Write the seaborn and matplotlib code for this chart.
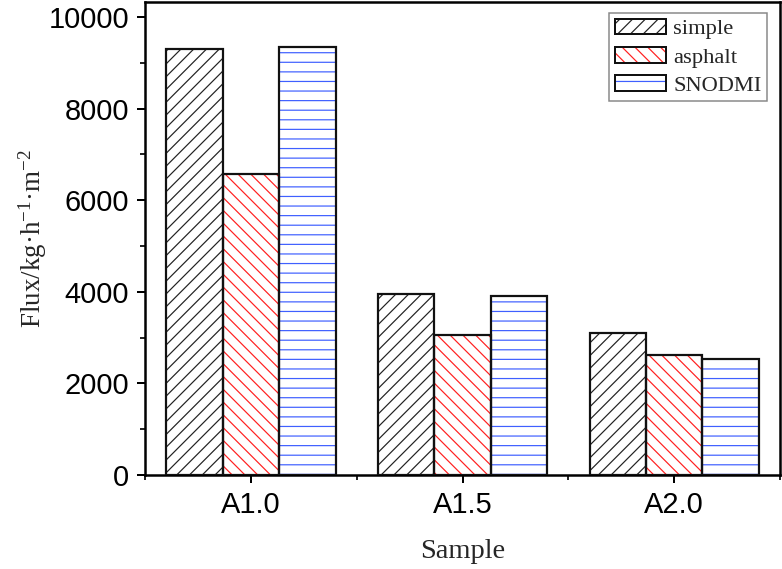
import matplotlib
matplotlib.use('Agg')
import matplotlib.pyplot as plt
import seaborn as sns
import pandas as pd
from matplotlib.patches import Patch, Rectangle
from matplotlib.legend_handler import HandlerTuple
from matplotlib.ticker import MultipleLocator, FixedLocator
from matplotlib.colors import to_hex

# ---- data ----
samples = ['A1.0', 'A1.5', 'A2.0']
series = ['simple', 'asphalt', 'SNODMI']
simple = [9300, 3950, 3105]
asphalt = [6570, 3055, 2620]
snodmi = [9350, 3915, 2525]

DPI = 230


def pt(px):
    return px * 72.0 / DPI


hatch_colors = {'simple': '#222222', 'asphalt': '#ff2020', 'SNODMI': '#3f5fff'}
hatches = {'simple': '//////', 'asphalt': '\\' * 6, 'SNODMI': '----'}

sns.set_theme(style='ticks')
plt.rcParams['font.family'] = ['Liberation Sans', 'DejaVu Sans']
plt.rcParams['hatch.linewidth'] = pt(1.2)
plt.rcParams['mathtext.fontset'] = 'custom'
plt.rcParams['mathtext.rm'] = 'Liberation Serif'
plt.rcParams['mathtext.it'] = 'Liberation Serif:italic'
plt.rcParams['axes.linewidth'] = pt(2.5)

df = pd.DataFrame({
    'Sample': samples * 3,
    'Series': [s for s in series for _ in samples],
    'Flux': simple + asphalt + snodmi,
})

fig = plt.figure(figsize=(782 / DPI, 569 / DPI), dpi=DPI)
ax = fig.add_axes([145 / 782, 1 - 475 / 569, 635 / 782, 473 / 569])

sns.barplot(data=df, x='Sample', y='Flux', hue='Series', order=samples,
            hue_order=series, width=0.8, ax=ax, legend=False, errorbar=None,
            saturation=1, palette=hatch_colors)

color_to_series = {to_hex(c): s for s, c in hatch_colors.items()}
bars = list(ax.patches)
for p in bars:
    s = color_to_series.get(to_hex(p.get_facecolor()))
    if s is None:
        continue
    p.set_facecolor('white')
    p.set_edgecolor(hatch_colors[s])
    p.set_hatch(hatches[s])
    p.set_linewidth(0)
    ax.add_patch(Rectangle((p.get_x(), p.get_y()), p.get_width(), p.get_height(),
                           fill=False, edgecolor='#111111', linewidth=pt(2.2), zorder=3))

ax.set_xlim(-0.5, 2.5)
ax.set_ylim(0, 10330)
ax.yaxis.set_major_locator(MultipleLocator(2000))
ax.yaxis.set_minor_locator(MultipleLocator(1000))
ax.xaxis.set_minor_locator(FixedLocator([-0.5, 0.5, 1.5, 2.5]))
ax.tick_params(axis='both', which='major', direction='out', length=pt(8), width=pt(2),
               labelsize=pt(29), pad=pt(8), colors='black')
ax.tick_params(axis='both', which='minor', direction='out', length=pt(5), width=pt(2))
ax.tick_params(top=False, right=False, which='both')
for sp in ax.spines.values():
    sp.set_color('black')

ax.set_xlabel('Sample', family='Liberation Serif', fontsize=pt(28.5), labelpad=pt(20))
ax.set_ylabel('Flux/kg·h$^{-1}$·m$^{-2}$', family='Liberation Serif', fontsize=pt(27))
ax.yaxis.set_label_coords((49 - 145) / 635, 0.5)

handles = [(Patch(facecolor='white', edgecolor=hatch_colors[s], hatch=hatches[s], linewidth=0),
            Patch(facecolor='none', edgecolor='#111111', linewidth=pt(2)))
           for s in series]
leg = ax.legend(handles, series, handler_map={tuple: HandlerTuple(ndivide=1, pad=0)},
                loc='upper right', bbox_to_anchor=((767 - 145) / 635, (475 - 13) / 473),
                borderaxespad=0, prop={'family': 'Liberation Serif', 'size': pt(22.5)},
                handlelength=2.27, handleheight=0.7, labelspacing=0.33,
                handletextpad=0.32, borderpad=0.25, fancybox=False, framealpha=1,
                edgecolor='#888888')
leg.get_frame().set_linewidth(pt(1.5))

fig.savefig('out.png', dpi=DPI, facecolor='white')
